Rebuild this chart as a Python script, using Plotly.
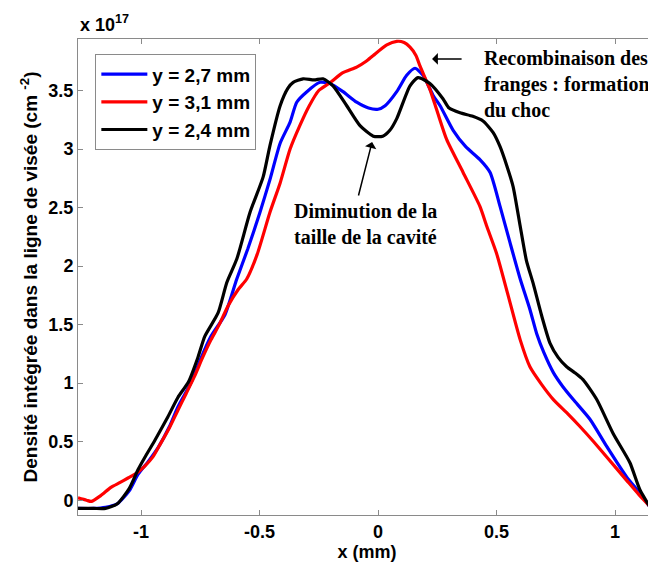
import plotly.graph_objects as go

# Intégrale de densité le long de la ligne de visée (unités de 1e17 cm^-2)
x_27 = [-1.266, -1.20, -1.15, -1.10, -1.05, -1.013, -0.97, -0.928, -0.88, -0.844,
        -0.79, -0.75, -0.705, -0.647, -0.596, -0.549, -0.498, -0.456, -0.413, -0.371,
        -0.343, -0.30, -0.245, -0.203, -0.148, -0.09, -0.04, 0.0, 0.03, 0.079,
        0.121, 0.156, 0.19, 0.232, 0.262, 0.317, 0.37, 0.43, 0.473, 0.515,
        0.557, 0.60, 0.641, 0.67, 0.70, 0.74, 0.78, 0.824, 0.895, 0.965,
        1.049, 1.105, 1.17]
y_27 = [-0.07, -0.07, -0.06, -0.03, 0.08, 0.22, 0.33, 0.45, 0.63, 0.80,
        1.00, 1.20, 1.40, 1.58, 1.89, 2.15, 2.46, 2.74, 3.05, 3.23,
        3.40, 3.49, 3.57, 3.56, 3.49, 3.40, 3.35, 3.34, 3.37, 3.49,
        3.63, 3.69, 3.63, 3.46, 3.37, 3.16, 3.02, 2.91, 2.80, 2.51,
        2.20, 1.89, 1.63, 1.42, 1.26, 1.09, 0.97, 0.86, 0.69, 0.46,
        0.20, 0.06, -0.12]

x_31 = [-1.266, -1.23, -1.21, -1.17, -1.127, -1.09, -1.055, -1.02, -0.985, -0.95,
        -0.916, -0.88, -0.844, -0.81, -0.774, -0.74, -0.705, -0.67, -0.633, -0.59,
        -0.554, -0.51, -0.456, -0.413, -0.371, -0.33, -0.29, -0.25, -0.20, -0.15,
        -0.09, -0.05, -0.02, 0.037, 0.079, 0.11, 0.135, 0.16, 0.177, 0.20,
        0.219, 0.25, 0.29, 0.359, 0.43, 0.459, 0.50, 0.549, 0.60, 0.641,
        0.69, 0.74, 0.80, 0.852, 0.91, 0.965, 1.049, 1.10, 1.17]
y_31 = [0.02, 0.0, -0.01, 0.04, 0.11, 0.15, 0.19, 0.23, 0.29, 0.37,
        0.49, 0.62, 0.77, 0.91, 1.06, 1.22, 1.37, 1.50, 1.66, 1.80,
        1.89, 2.10, 2.46, 2.71, 3.00, 3.20, 3.37, 3.50, 3.57, 3.65,
        3.70, 3.75, 3.80, 3.89, 3.92, 3.91, 3.87, 3.80, 3.71, 3.60,
        3.51, 3.32, 3.08, 2.80, 2.51, 2.34, 2.11, 1.75, 1.37, 1.14,
        0.99, 0.86, 0.74, 0.63, 0.50, 0.37, 0.17, 0.05, -0.10]

x_24 = [-1.266, -1.20, -1.15, -1.10, -1.05, -1.013, -0.98, -0.942, -0.89, -0.844,
        -0.80, -0.76, -0.731, -0.675, -0.638, -0.596, -0.54, -0.485, -0.456, -0.413,
        -0.38, -0.358, -0.316, -0.27, -0.232, -0.19, -0.132, -0.076, -0.02, 0.02,
        0.05, 0.079, 0.135, 0.169, 0.219, 0.274, 0.30, 0.346, 0.40, 0.443,
        0.486, 0.515, 0.543, 0.57, 0.60, 0.626, 0.655, 0.69, 0.726, 0.76,
        0.796, 0.83, 0.865, 0.923, 0.992, 1.063, 1.105, 1.17]
y_24 = [-0.07, -0.07, -0.07, -0.03, 0.10, 0.26, 0.38, 0.51, 0.70, 0.88,
        1.01, 1.22, 1.40, 1.60, 1.86, 2.06, 2.46, 2.76, 3.03, 3.37,
        3.52, 3.57, 3.60, 3.59, 3.60, 3.54, 3.37, 3.20, 3.11, 3.11,
        3.16, 3.26, 3.54, 3.61, 3.56, 3.43, 3.35, 3.31, 3.28, 3.24,
        3.14, 3.02, 2.86, 2.68, 2.34, 2.05, 1.85, 1.58, 1.34, 1.22,
        1.14, 1.09, 1.03, 0.86, 0.57, 0.32, 0.09, -0.13]

series = [
    ("y = 2,7 mm", x_27, y_27, "#0000ff"),
    ("y = 3,1 mm", x_31, y_31, "#ff0000"),
    ("y = 2,4 mm", x_24, y_24, "#000000"),
]

x_ticks = [-1, -0.5, 0, 0.5, 1]
y_ticks = [0, 0.5, 1, 1.5, 2, 2.5, 3, 3.5]

SANS = "Liberation Sans, Arial, sans-serif"
SERIF = "Liberation Serif, Times New Roman, serif"
AXIS_GREY = "#8a8a8a"

fig = go.Figure()
for name, xs, ys, color in series:
    fig.add_trace(go.Scatter(x=xs, y=ys, mode="lines", name=name,
                             line=dict(color=color, width=3.2, shape="spline", smoothing=0.6)))

axis_common = dict(
    showgrid=False, zeroline=False, showline=True, linecolor=AXIS_GREY, linewidth=1,
    ticks="inside", ticklen=5, tickcolor=AXIS_GREY, automargin=False,
    tickfont=dict(family=SANS, size=18, color="black", weight="bold"),
)

# the page body keeps an 8px margin, so the figure is 8px smaller than the window
fig.update_layout(
    width=648, height=555,
    template="none",
    paper_bgcolor="white", plot_bgcolor="white",
    margin=dict(l=70, r=0, t=31, b=48),
    showlegend=True,
    legend=dict(
        x=0.03, y=0.968, xanchor="left", yanchor="top",
        bgcolor="white", bordercolor=AXIS_GREY, borderwidth=1,
        font=dict(family=SANS, size=19, color="black", weight="bold"),
        tracegroupgap=0, itemwidth=46,
    ),
    xaxis=dict(range=[-1.266, 1.173], tickvals=x_ticks,
               ticktext=[f"{v:g}" for v in x_ticks], mirror="ticks",
               title=dict(text="x (mm)", standoff=2,
                          font=dict(family=SANS, size=18, color="black", weight="bold")),
               **axis_common),
    yaxis=dict(range=[-0.126, 3.94], tickvals=y_ticks,
               ticktext=[f"{v:g}" for v in y_ticks],
               title=dict(text="Densité intégrée dans la ligne de visée (cm <sup>-2</sup>)",
                          standoff=5,
                          font=dict(family=SANS, size=19, color="black", weight="bold")),
               **axis_common),
)

# facteur d'échelle MATLAB
fig.add_annotation(xref="paper", yref="paper", x=0.0, y=1.0, xanchor="left", yanchor="bottom",
                   yshift=2, text="x 10<sup>17</sup>", showarrow=False,
                   font=dict(family=SANS, size=18, color="black", weight="bold"))

# annotations en police serif
serif_font = dict(family=SERIF, size=20, color="black", weight="bold")
fig.add_annotation(x=0.439, y=3.89, xref="x", yref="y", xanchor="left", yanchor="top",
                   align="left", showarrow=False, font=serif_font,
                   text="Recombinaison des<br>franges : formation<br>du choc")
fig.add_annotation(x=0.228, y=3.77, ax=0.359, ay=3.77, xref="x", yref="y",
                   axref="x", ayref="y", text="", showarrow=True,
                   arrowhead=1, arrowsize=1.3, arrowwidth=1.5, arrowcolor="black")

fig.add_annotation(x=-0.363, y=2.58, xref="x", yref="y", xanchor="left", yanchor="top",
                   align="left", showarrow=False, font=serif_font,
                   text="Diminution de la<br>taille de la cavité")
fig.add_annotation(x=-0.025, y=3.06, ax=-0.084, ay=2.59, xref="x", yref="y",
                   axref="x", ayref="y", text="", showarrow=True,
                   arrowhead=1, arrowsize=1.3, arrowwidth=1.5, arrowcolor="black")

fig.write_html("out.html")
